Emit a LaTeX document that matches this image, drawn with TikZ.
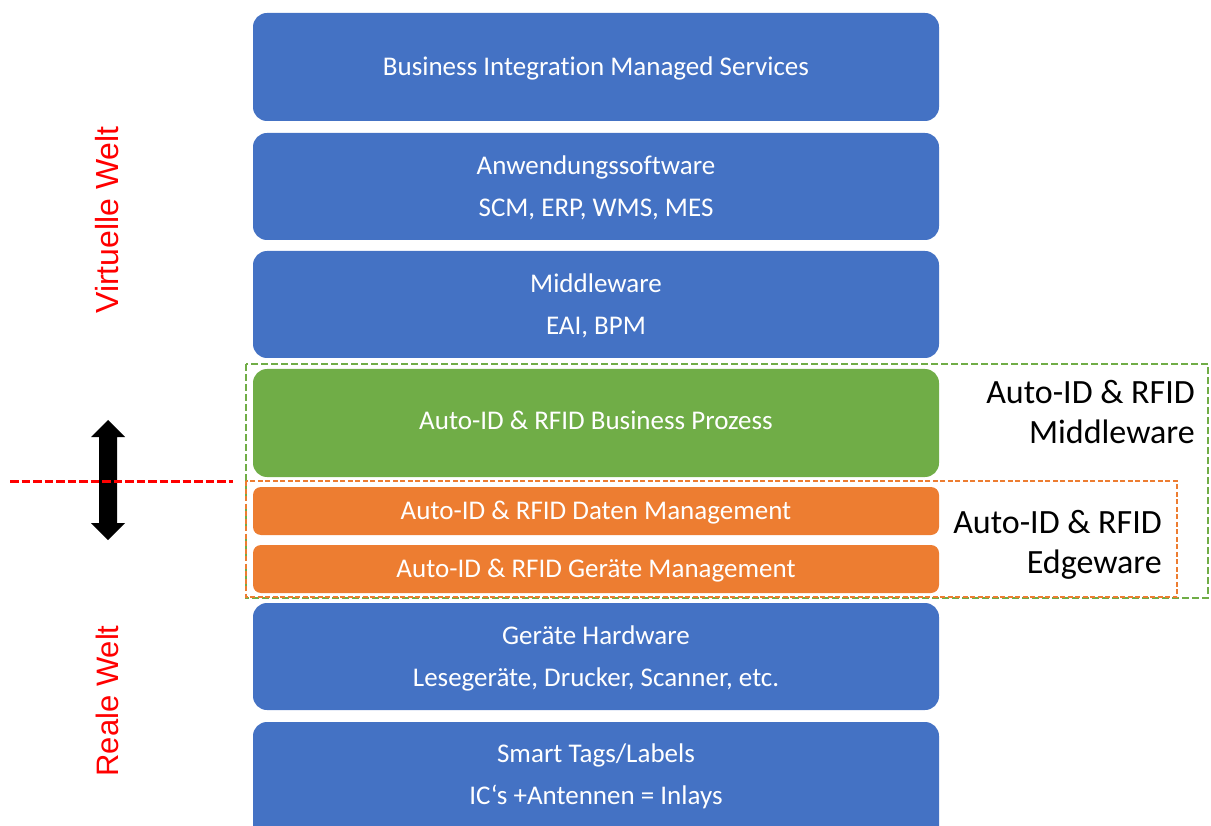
\documentclass[tikz,border=0pt]{standalone}
\usepackage{fontspec}
\setmainfont{Carlito}[Ligatures={TeX,NoCommon}]
\newfontfamily\sidefont{Liberation Sans}
\definecolor{layerblue}{HTML}{4472C4}
\definecolor{layergreen}{HTML}{70AD47}
\definecolor{layerorange}{HTML}{ED7D31}
\definecolor{worldred}{HTML}{FF0000}
\begin{document}
\begin{tikzpicture}[x=1pt, y=-1pt,
  layer/.style={rounded corners=14pt, fill=layerblue, text=white,
    minimum width=686pt, align=center, inner sep=0pt,
    font=\fontsize{27}{42}\selectfont},
  oneline/.style={text height=17.4pt, text depth=0pt},
  twoline/.style={text height=59.4pt, text depth=0pt},
  greenlayer/.style={layer, fill=layergreen},
  orangelayer/.style={layer, fill=layerorange, rounded corners=8pt},
  layertext/.style={text=white, align=center, inner sep=0pt,
    font=\fontsize{27}{42}\selectfont},
  sidelabel/.style={align=right, inner sep=0pt, anchor=base east,
    font=\fontsize{34}{40}\selectfont},
  worldlabel/.style={text=worldred, rotate=90, inner sep=0pt},
  middlebox/.style={draw=layergreen, line width=1.5pt, dash pattern=on 7pt off 3pt},
  edgebox/.style={draw=layerorange, line width=1.3pt, dash pattern=on 5pt off 2.5pt},
  worldline/.style={draw=worldred, line width=3pt, dash pattern=on 8.5pt off 3pt}
]
\useasboundingbox (0,0) rectangle (1211,826);

% layer stack
\node[layer, oneline, minimum height=108pt] (bims) at (596,67) {Business Integration Managed Services};
\node[layer, twoline, text height=60pt, minimum height=107pt] (apps) at (596,186.5) {Anwendungssoftware\\SCM, ERP, WMS, MES};
\node[layer, twoline, minimum height=107pt] (mw) at (596,304.5) {Middleware\\EAI, BPM};
\node[greenlayer, oneline, text height=14pt, minimum height=108pt] (bp) at (596,423) {Auto-ID \& RFID Business Prozess};
\node[orangelayer, oneline, minimum height=48pt] (dm) at (596,511) {Auto-ID \& RFID Daten Management};
\node[orangelayer, oneline, minimum height=48pt] (gm) at (596,569) {Auto-ID \& RFID Geräte Management};
\node[layer, twoline, minimum height=107pt] (hw) at (596,656.5) {Geräte Hardware\\Lesegeräte, Drucker, Scanner, etc.};
\node[layer, minimum height=120pt] (tags) at (596,782) {};
\node[layertext, twoline] (tagstext) at (596,775) {Smart Tags/Labels\\IC‘s +Antennen = Inlays};

% middleware and edgeware groupings
\coordinate (mwNW) at (246,364);
\coordinate (mwSE) at (1208,598);
\coordinate (egNW) at (246,481);
\coordinate (egSE) at (1177,597);
\draw[middlebox] (mwNW) rectangle (mwSE);
\draw[edgebox] (egNW) rectangle (egSE);
\node[sidelabel] (mwlabel) at (1195,443.3) {Auto-ID \& RFID\\Middleware};
\node[sidelabel] (eglabel) at (1162,573) {Auto-ID \& RFID\\Edgeware};

% boundary between virtual and real world
\fill (108,420) -- (125,437) -- (117,437) -- (117,523) -- (125,523) -- (108,540)
  -- (91,523) -- (99,523) -- (99,437) -- (91,437) -- cycle;
\coordinate (lineL) at (10,481);
\coordinate (lineR) at (233,481);
\draw[worldline] (lineL) -- (lineR);
\node[worldlabel, font=\sidefont\fontsize{32}{38}\selectfont] (virt) at (107,220) {Virtuelle Welt};
\node[worldlabel, font=\sidefont\fontsize{31}{37}\selectfont] (real) at (107,701) {Reale Welt};
\end{tikzpicture}
\end{document}
